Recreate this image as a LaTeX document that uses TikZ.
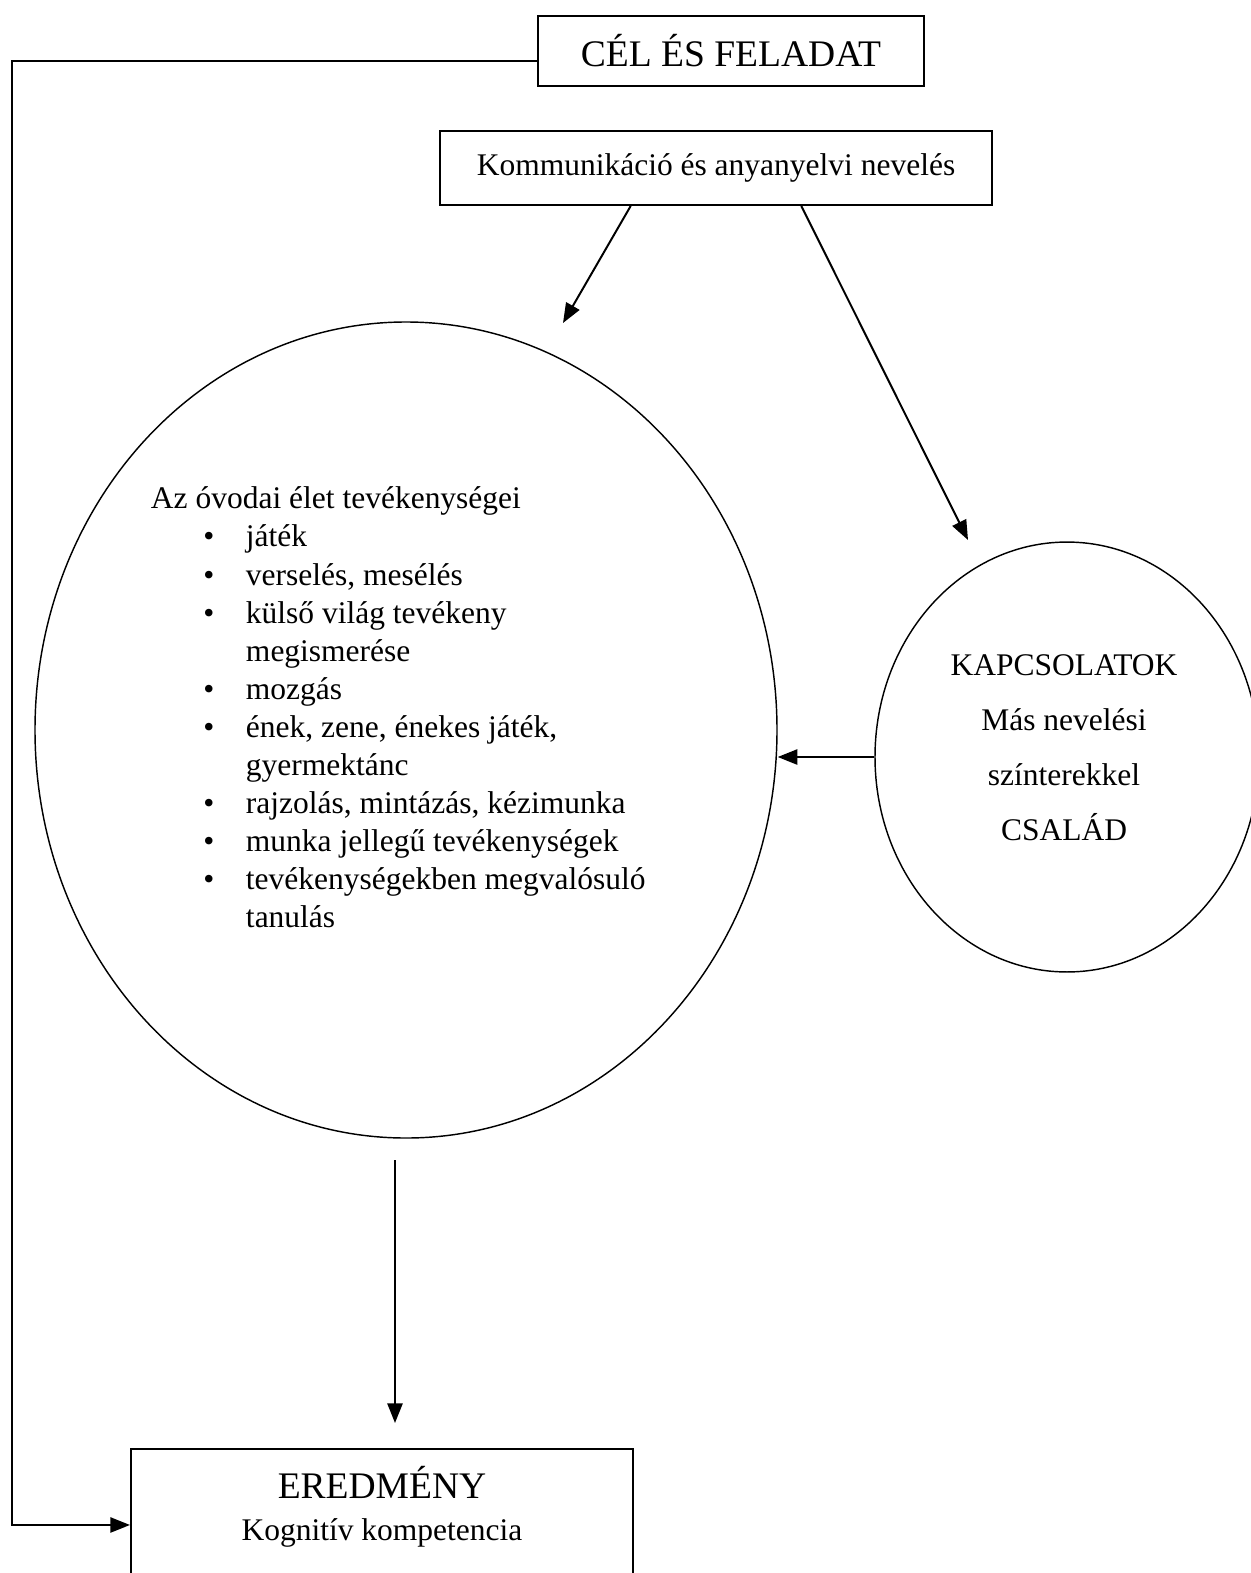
\documentclass[tikz,border=0pt]{standalone}
\usepackage{fontspec}
\setmainfont{Liberation Serif}
\usetikzlibrary{shapes,arrows.meta,positioning}

\newcommand{\pont}[1]{\hspace*{20pt}\makebox[16.2pt][l]{\textbullet}#1}
\newcommand{\folyt}[1]{\hspace*{36.2pt}#1}

\begin{document}
\begin{tikzpicture}[->,>={Triangle[length=7.5pt,width=5.8pt]},
	  x=0.381pt,y=-0.381pt,line width=0.75pt,
	  every node/.append style={font=\fontsize{12}{14.5}\selectfont}]
	  \tikzstyle{doboz} = [draw,rectangle,inner sep=0pt]
	  \tikzstyle{kor} = [draw,ellipse,inner sep=0pt,line width=0.55pt]
	  \tikzstyle{nagy} = [font=\fontsize{14.3}{17}\selectfont]
	  \useasboundingbox (0,0) rectangle (1250,1573);
	  % dobozok
	  \node (cel) [doboz,nagy,minimum width=147pt,minimum height=26.7pt] at (731,51) {CÉL ÉS FELADAT};
	  \node (komm) [doboz,minimum width=210pt,minimum height=28.2pt] at (716,168) {Kommunikáció és anyanyelvi nevelés};
	  \node (eredm) [doboz,minimum width=191.3pt,minimum height=57.9pt,anchor=north] at (382,1448) {};
	  \node (eredm_t) [align=center,below=6.5pt of eredm.north,inner sep=0pt,font=\fontsize{12}{16}\selectfont]
	    {{\fontsize{14.3}{17}\selectfont EREDMÉNY}\\Kognitív kompetencia};
	  % korok
	  \node (ovoda) [kor,minimum width=282.7pt,minimum height=310.9pt] at (406,730) {};
	  \node (kapcs) [kor,minimum width=146.3pt,minimum height=163.8pt] at (1067,757) {};
	  \node (kapcs_t) [align=center,font=\fontsize{12}{21}\selectfont] at (1064,748)
	    {KAPCSOLATOK\\Más nevelési\\színterekkel\\CSALÁD};
	  \node (lista) [anchor=north west,align=left,inner sep=0pt] at (150,486)
	    {Az óvodai élet tevékenységei\\
	     \pont{játék}\\
	     \pont{verselés, mesélés}\\
	     \pont{külső világ tevékeny}\\
	     \folyt{megismerése}\\
	     \pont{mozgás}\\
	     \pont{ének, zene, énekes játék,}\\
	     \folyt{gyermektánc}\\
	     \pont{rajzolás, mintázás, kézimunka}\\
	     \pont{munka jellegű tevékenységek}\\
	     \pont{tevékenységekben megvalósuló}\\
	     \folyt{tanulás}};
	  % szabad vegek
	  \coordinate (k1) at (563,323);
	  \coordinate (k2) at (968,540);
	  \coordinate (le1) at (395,1160);
	  \coordinate (le2) at (395,1423);
	  \coordinate (sin) at (12,800);
	  % nyilak
	  \draw[->] (komm.204) to (k1);
	  \draw[->] (komm.336) to (k2);
	  \draw[->] (kapcs.west) to (kapcs.west -| ovoda.east);
	  \draw[->] (le1) to (le2);
	  \draw[->] (cel.183) -| (sin) |- (eredm.west);
	\end{tikzpicture}
\end{document}
